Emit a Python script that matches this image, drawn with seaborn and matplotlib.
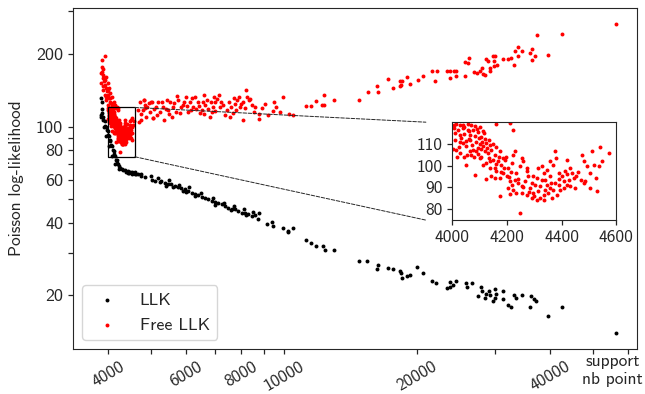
import pandas as pd
import seaborn as sns
import matplotlib.pyplot as plt
from matplotlib.patches import Rectangle, ConnectionPatch

# (support nb point, Poisson log-likelihood)
llk_steep = [(3860, 131), (3878, 126), (3860, 112), (3893, 110), (3928, 105), (3955, 100), (3990, 95.6),
             (4020, 91.2), (4050, 87), (4085, 83), (4115, 79), (4145, 75.4), (4180, 72.6), (4210, 70),
             (4240, 68.6), (4300, 67), (4370, 66.1), (4430, 65.4), (4490, 64.8), (4560, 64.5), (4630, 63.8),
             (4740, 63.4), (3850, 110), (3910, 100), (3955, 91.2), (4020, 83), (4085, 75.4), (4145, 69.7),
             (4240, 66.5), (3870, 118), (3880, 114), (3900, 107), (3940, 101), (3970, 97), (4000, 92),
             (4035, 88), (4065, 84), (4100, 80), (4130, 77), (4160, 73), (4195, 71), (4260, 67.5),
             (4330, 66), (4400, 65), (4470, 64), (4530, 63.6), (4600, 64.8)]
llk_mid = [(4440, 64.5), (4520, 64.8), (4600, 63.4), (4680, 63.8), (4760, 62.4), (4850, 62.0), (5020, 60.1),
           (5100, 59.5), (5230, 59.0), (5280, 59.3), (5380, 58.6), (5470, 58.0), (5560, 57.7), (5670, 56.8),
           (5760, 56.5), (5860, 55.8), (5970, 55.0), (6070, 54.1), (6180, 53.3), (6290, 52.7), (6400, 52.0),
           (6510, 51.3), (6630, 50.8), (6740, 50.0), (6860, 49.2), (6980, 48.7), (7100, 48.1), (7230, 47.7),
           (7350, 46.9), (7480, 46.2), (7610, 45.8), (7750, 45.5), (7880, 44.8), (8020, 44.1), (8160, 43.8),
           (8300, 43.4), (8450, 42.7), (8600, 42.9), (8790, 43.8), (8750, 41.4), (9140, 39.5), (9380, 40.1),
           (9460, 38.8), (9960, 38.2), (10230, 37.0), (10490, 37.9), (5000, 62.5), (5200, 61), (5500, 60),
           (5800, 57.5), (6100, 56), (6500, 53), (6900, 50.5), (7300, 48.5), (7700, 47), (8100, 45.5),
           (8500, 44.5), (6000, 53.5), (6300, 51.5), (7000, 47.5), (7600, 45), (8200, 43), (5400, 57),
           (5600, 56), (5900, 54)]
llk_tail = [(10230, 36.5), (11210, 34.0), (11490, 33.1), (11810, 32.1), (12240, 32.1), (12360, 30.9),
            (12980, 30.9), (14800, 27.7), (15430, 27.8), (16300, 26.8), (16270, 25.7), (17170, 26.0),
            (17670, 25.7), (18300, 25.2), (18390, 24.7), (18520, 23.6), (18950, 24.0), (19240, 24.3),
            (20030, 26.2), (20660, 24.7), (21650, 23.0), (22110, 22.5), (23340, 21.4), (23740, 22.7),
            (24080, 22.1), (24520, 23.0), (23740, 21.7), (25810, 22.5), (25940, 21.7), (26700, 22.5),
            (27520, 19.9), (27890, 21.7), (28080, 20.9), (28500, 19.5), (28690, 20.3), (29140, 20.9),
            (29240, 20.0), (29700, 19.0), (30010, 21.2), (30160, 20.3), (30010, 19.6), (31250, 20.9),
            (31250, 19.3), (32160, 18.2), (32630, 17.9), (33140, 20.1), (33520, 19.6), (34500, 20.1),
            (36030, 17.9), (36300, 19.9), (36770, 19.3), (37150, 19.0), (39630, 16.5), (42630, 17.9),
            (56270, 14.0)]

free_head = [(3928, 196), (3880, 188), (3878, 177), (3878, 169), (3888, 164), (3893, 159), (3910, 154),
             (3934, 149), (3955, 144), (3975, 140), (4000, 135.5), (4020, 131), (4050, 127), (4085, 123),
             (3860, 166.5), (3860, 151), (3895, 142), (3928, 135.5), (3955, 129), (3990, 123), (3955, 161),
             (3990, 151), (4020, 144), (4050, 137.6), (4085, 133), (4115, 127), (4145, 123), (3893, 173),
             (3905, 147), (3934, 156), (3965, 133), (4000, 142), (4035, 131), (4065, 125), (4180, 121),
             (4210, 119.5), (4716, 127), (4824, 129), (5000, 126.4), (4840, 119.5), (5050, 108.6),
             (4670, 117.5)]
free_zoom = [(4005, 118.9), (4015, 119.2), (4027, 118.6), (4039, 118.9), (4057, 119.2), (4070, 118.6),
             (4082, 118.2), (4100, 117.7), (4008, 117.4), (4021, 116.6), (4039, 117.1), (4057, 116.2),
             (4076, 116.6), (4094, 115.5), (4113, 115.9), (4012, 115.1), (4027, 114.3), (4045, 114.6),
             (4064, 114.0), (4082, 113.6), (4107, 113.1), (4119, 112.5), (4002, 107.9), (4015, 107.4),
             (4024, 108.5), (4039, 110.5), (4051, 111.2), (4066, 111.6), (4086, 110.9), (4100, 110.0),
             (4125, 110.5), (4137, 109.7), (4042, 103.9), (4051, 100.5), (4064, 106.6), (4076, 107.4),
             (4088, 106.6), (4107, 107.9), (4119, 106.6), (4131, 105.9), (4143, 107.4), (4156, 105.1),
             (4162, 108.5), (4174, 106.6), (4186, 103.6), (4150, 102.8), (4125, 101.3), (4113, 100.5),
             (4137, 99.0), (4082, 95.9), (4123, 93.9), (4100, 103.6), (4094, 105.4), (4070, 105.1),
             (4162, 119.2), (4223, 116.6), (4033, 112.8), (4049, 109.0), (4061, 112.5), (4098, 112.8),
             (4113, 109.0), (4135, 103.6), (4073, 109.4), (4027, 110.9),
             (4010, 112), (4018, 104), (4030, 106), (4045, 118), (4055, 105), (4060, 116), (4080, 104),
             (4090, 117), (4095, 108), (4105, 104), (4110, 111), (4118, 115), (4128, 108), (4133, 112),
             (4140, 102), (4148, 110), (4155, 99), (4160, 101), (4170, 104), (4178, 97), (4190, 99),
             (4198, 104), (4208, 95), (4215, 97), (4240, 94), (4260, 90), (4280, 88), (4300, 86),
             (4320, 85), (4340, 89), (4360, 92), (4390, 94), (4420, 96), (4460, 97),
             (4168, 102.0), (4180, 100.5), (4192, 102.8), (4205, 99.0), (4217, 101.3), (4223, 105.1),
             (4229, 106.6), (4235, 96.7), (4248, 99.7), (4254, 103.6), (4260, 102.0), (4186, 96.7),
             (4199, 95.1), (4211, 92.8), (4174, 94.4), (4162, 97.4), (4156, 94.4), (4143, 95.1),
             (4217, 91.3), (4229, 93.6), (4242, 92.0), (4254, 90.5), (4266, 92.8), (4272, 97.4),
             (4278, 95.1), (4284, 89.7), (4291, 92.0), (4297, 87.4), (4303, 91.3), (4254, 87.4),
             (4235, 87.4), (4211, 87.0), (4205, 89.7), (4174, 86.2), (4223, 89.0), (4272, 86.7),
             (4291, 85.1), (4309, 84.4), (4315, 88.2), (4321, 90.5), (4334, 86.7), (4327, 93.6),
             (4309, 94.4), (4248, 78.2), (4272, 99.0), (4297, 95.1),
             (4315, 99.0), (4327, 99.7), (4334, 96.7), (4346, 98.2), (4358, 95.1), (4370, 100.5),
             (4377, 106.6), (4380, 103.6), (4389, 96.7), (4401, 95.1), (4413, 97.4), (4419, 102.8),
             (4426, 93.6), (4432, 99.0), (4438, 96.7), (4444, 94.4), (4454, 95.1), (4346, 91.3),
             (4358, 89.7), (4370, 89.0), (4383, 86.7), (4395, 89.0), (4407, 89.7), (4419, 91.3),
             (4340, 93.6), (4352, 87.4), (4364, 85.1), (4334, 84.4), (4377, 92.0), (4389, 91.3),
             (4358, 102.0), (4407, 92.8), (4432, 90.5), (4450, 89.7), (4475, 105.1), (4481, 102.0),
             (4487, 92.8), (4493, 99.7), (4503, 96.7), (4511, 106.6), (4518, 100.5), (4524, 94.4),
             (4536, 99.7), (4540, 108.5), (4548, 102.0), (4573, 105.9), (4469, 93.6), (4481, 92.0),
             (4505, 89.7), (4530, 88.2)]
free_mid = [(9950, 133), (10260, 113), (10480, 112), (9490, 126), (9440, 116), (9060, 124), (8780, 113),
            (8780, 108), (8210, 142), (8250, 133), (8330, 129), (8080, 127), (8470, 123), (8600, 121),
            (7910, 133), (7830, 129), (7750, 124), (7950, 120), (8080, 107), (7670, 114), (7550, 110),
            (7430, 117.5), (7280, 123), (7130, 135.5), (7060, 130.5), (6980, 126), (6910, 121), (6880, 115),
            (6800, 110), (6690, 129), (6630, 123), (6590, 135.5), (6520, 117.5), (6460, 114), (6390, 126),
            (6290, 132), (6230, 121), (6130, 127), (6070, 115), (6010, 133), (5910, 123), (5820, 114),
            (5760, 129), (5730, 134), (5610, 120), (5580, 110), (5520, 126), (5470, 117.5), (5440, 129),
            (5350, 107), (5330, 121), (5240, 115), (5190, 126), (5130, 120), (5050, 109), (5030, 126),
            (4980, 115), (4900, 121), (4850, 123), (4820, 129), (4800, 117.5), (4750, 107), (4700, 104),
            (4760, 113), (4880, 110), (4950, 125), (5080, 118), (5160, 112), (5290, 127), (5400, 118),
            (5500, 113), (5650, 125), (5700, 115), (5850, 120), (5950, 127), (6050, 122), (6150, 117),
            (6200, 131), (6330, 118), (6420, 122), (6550, 127), (6600, 113), (6740, 118), (6850, 127),
            (6950, 132), (7000, 116), (7150, 120), (7200, 127), (7350, 112), (7500, 126), (7600, 121),
            (7700, 131), (7800, 117), (8000, 124), (8150, 119), (8400, 130), (8550, 115), (8900, 119),
            (9200, 112), (9600, 120), (9800, 115)]
free_tail = [(56400, 266), (42560, 242), (37360, 239), (33830, 214), (34550, 206), (33320, 206), (36030, 202),
             (36400, 210), (36980, 196), (33830, 196), (36400, 189), (39570, 198), (32630, 192), (32120, 191),
             (31290, 191), (33140, 180), (30010, 196), (29700, 196), (28640, 191), (28940, 187), (29860, 187),
             (30330, 180), (29860, 178.5), (26220, 192), (25680, 185), (26080, 183.6), (28050, 175),
             (27770, 170), (26910, 168.6), (27340, 167), (28200, 165), (28500, 163.8), (29240, 175),
             (29240, 170), (25680, 162), (24490, 170), (24240, 170), (23740, 170), (23370, 170), (23740, 159),
             (24490, 162), (22190, 170), (21620, 170), (21960, 155), (20630, 162), (20100, 156), (18980, 161),
             (19280, 150), (18490, 155), (18300, 155), (18390, 149), (18300, 147.6), (17650, 144.8),
             (17200, 157.7), (16230, 147.6), (16320, 139.4), (15490, 139.4), (14780, 129), (12980, 129),
             (12320, 135.5), (12320, 123), (12190, 123), (11810, 128), (11510, 122), (11210, 122)]

x_ticks = [4000, 6000, 8000, 10000, 20000, 40000]
x_minor = [5000, 7000, 9000, 30000, 50000, 60000]
y_ticks = [20, 40, 60, 80, 100, 200]
y_minor = [30, 50, 70, 90, 300]
zoom_x_ticks = [4000, 4200, 4400, 4600]
zoom_y_ticks = [80, 90, 100, 110]

llk = pd.DataFrame(llk_steep + llk_mid + llk_tail, columns=['n', 'llk'])
free = pd.DataFrame(free_head + free_zoom + free_mid + free_tail, columns=['n', 'llk'])

sns.set_style('ticks')
plt.rcParams['font.family'] = ['cmss10', 'DejaVu Sans']
plt.rcParams['axes.unicode_minus'] = False

fig = plt.figure(figsize=(6.45, 3.94), dpi=100)
ax = fig.add_axes([0.113, 0.114, 0.875, 0.866])

sns.scatterplot(data=llk, x='n', y='llk', color='black', s=8, linewidth=0, label='LLK', ax=ax)
sns.scatterplot(data=free, x='n', y='llk', color='red', s=8, linewidth=0, label='Free LLK', ax=ax)

ax.set_xscale('log')
ax.set_yscale('log')
ax.set_xlim(3330, 63000)
ax.set_ylim(12, 310)
ax.set_xticks(x_ticks, labels=[str(v) for v in x_ticks], rotation=30, fontsize=12.5)
ax.set_xticks(x_minor, labels=[''] * len(x_minor), minor=True)
ax.set_yticks(y_ticks, labels=[str(v) for v in y_ticks], fontsize=13)
ax.set_yticks(y_minor, labels=[''] * len(y_minor), minor=True)
ax.tick_params(which='both', length=3.5, width=0.9)
ax.set_ylabel('Poisson log-likelihood', fontsize=12.5)
ax.yaxis.set_label_coords(-0.086, 0.5)
ax.set_xlabel('support\nnb point', fontsize=12.5)
ax.xaxis.set_label_coords(0.956, -0.015)
ax.legend(loc='lower left', fontsize=13)

# zoomed region
ax.add_patch(Rectangle((4000, 75), 600, 45, fill=False, edgecolor='black', lw=0.9, zorder=5))
axins = ax.inset_axes([0.672, 0.378, 0.291, 0.287])
sns.scatterplot(data=free, x='n', y='llk', color='red', s=8, linewidth=0, ax=axins, legend=False)
axins.set_xlim(4000, 4600)
axins.set_ylim(75, 120)
axins.set_xticks(zoom_x_ticks, labels=[str(v) for v in zoom_x_ticks], fontsize=12.5)
axins.set_yticks(zoom_y_ticks, labels=[str(v) for v in zoom_y_ticks], fontsize=12.5)
axins.set_xlabel('')
axins.set_ylabel('')
axins.tick_params(length=3.5, width=0.9)

for ya, yb in [(120, 1.0), (75, 0.0)]:
    con = ConnectionPatch(xyA=(4600, ya), coordsA=ax.transData, xyB=(-0.16, yb), coordsB=axins.transAxes,
                          linestyle='--', lw=0.7, color='0.15')
    fig.add_artist(con)

fig.savefig('out.png', dpi=100)
plt.close()
